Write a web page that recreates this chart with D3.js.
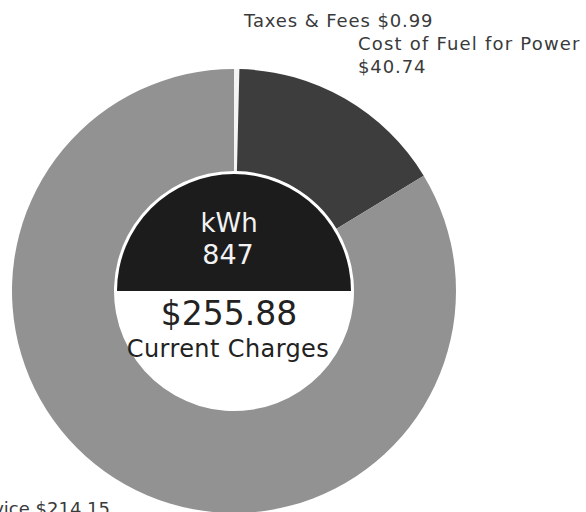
<!DOCTYPE html>
<html>
<head>
<meta charset="utf-8">
<script src="https://cdn.jsdelivr.net/npm/d3@7"></script>
<style>
  body { margin: 0; background: #fff; }
  svg { display: block; }
</style>
</head>
<body>
<div id="chart"></div>
<script>
// bill breakdown, clockwise from 12 o'clock
var categories = ["Taxes & Fees", "Cost of Fuel for Power", "Delivery Service"]
var amounts = [0.99, 40.74, 214.15]
var sliceColors = ["#f4f4f4", "#3d3d3d", "#929292"]
var kwh = 847
var total = 255.88

var width = 586, height = 512
var cx = 234, cy = 291
var money = d3.format("$,.2f")

var svg = d3.select("#chart")
  .append("svg")
  .attr("width", width)
  .attr("height", height)

var g = svg.append("g")
  .attr("transform", "translate(" + cx + "," + cy + ")")

var rows = categories.map((c, i) => ({category: c, amount: amounts[i], color: sliceColors[i]}))

var pie = d3.pie()
  .sort(null)
  .value(d => d.amount)

var arc = d3.arc()
  .innerRadius(120)
  .outerRadius(222)

g.selectAll("path.slice")
  .data(pie(rows))
  .enter()
  .append("path")
  .attr("class", "slice")
  .attr("d", arc)
  .attr("fill", d => d.data.color)

// center: dark top half with kWh, white lower half with total
g.append("path")
  .attr("d", d3.arc()({innerRadius: 0, outerRadius: 117, startAngle: -Math.PI / 2, endAngle: Math.PI / 2}))
  .attr("fill", "#1c1c1c")

var font = "'DejaVu Sans', sans-serif"

g.append("text")
  .text("kWh")
  .attr("x", -5)
  .attr("y", -59)
  .attr("text-anchor", "middle")
  .attr("font-family", font)
  .attr("font-size", 26)
  .attr("fill", "#f2f2f2")

g.append("text")
  .text(kwh)
  .attr("x", -6)
  .attr("y", -27)
  .attr("text-anchor", "middle")
  .attr("font-family", font)
  .attr("font-size", 27)
  .attr("fill", "#f2f2f2")

g.append("text")
  .text(money(total))
  .attr("x", -5)
  .attr("y", 34)
  .attr("text-anchor", "middle")
  .attr("font-family", font)
  .attr("font-size", 33)
  .attr("fill", "#222")

g.append("text")
  .text("Current Charges")
  .attr("x", -6)
  .attr("y", 66)
  .attr("text-anchor", "middle")
  .attr("font-family", font)
  .attr("font-size", 24)
  .attr("letter-spacing", 0.4)
  .attr("fill", "#222")

// outside labels
var labels = svg.append("g")
  .attr("font-family", font)
  .attr("font-size", 18)
  .attr("letter-spacing", 0.9)
  .attr("fill", "#3a3a3a")

labels.append("text")
  .text(rows[0].category + " " + money(rows[0].amount))
  .attr("x", 244)
  .attr("y", 27)

labels.append("text")
  .text(rows[1].category)
  .attr("x", 358)
  .attr("y", 50)
  .attr("letter-spacing", 1.2)

labels.append("text")
  .text(money(rows[1].amount))
  .attr("x", 358)
  .attr("y", 73)

// sits partly off the page, as in the scan
labels.append("text")
  .text(rows[2].category + " " + money(rows[2].amount))
  .attr("x", 110)
  .attr("y", 515)
  .attr("letter-spacing", 0)
  .attr("text-anchor", "end")
</script>
</body>
</html>
